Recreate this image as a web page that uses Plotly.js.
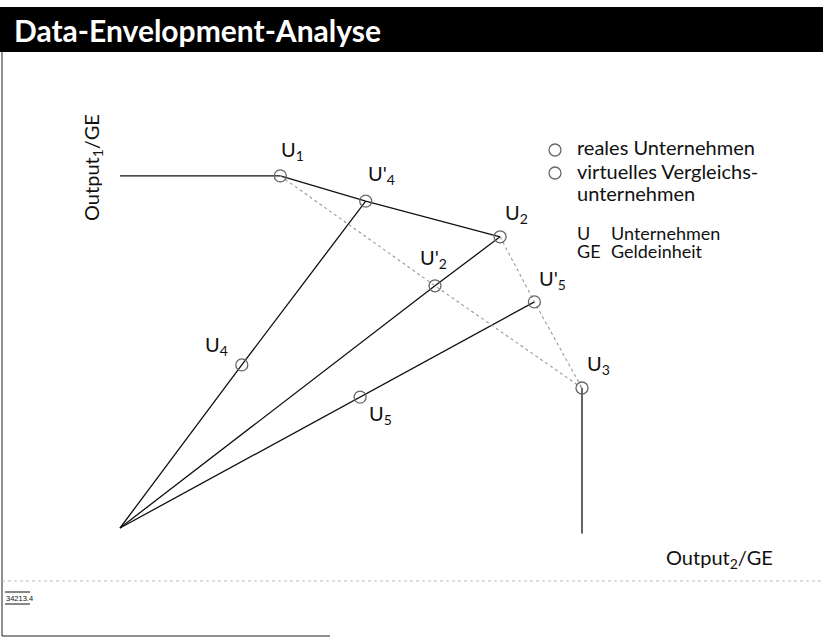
<!DOCTYPE html>
<html>
<head>
<meta charset="utf-8">
<script src="https://cdn.plot.ly/plotly-3.0.1.min.js"></script>
<style>html,body{margin:0;padding:0;background:#fff;}#chart{width:823px;height:644px;}</style>
</head>
<body>
<div id="chart"></div>
<script>
// ---- data (Output2 on x, Output1 on y, in GE) ----
const realNames = ["U<sub>1</sub>", "U<sub>2</sub>", "U<sub>3</sub>", "U<sub>4</sub>", "U<sub>5</sub>"];
const realOutput2 = [2.29, 5.43, 6.6, 1.74, 3.43];
const realOutput1 = [5.03, 4.16, 2.0, 2.33, 1.87];
const virtNames = ["U'<sub>2</sub>", "U'<sub>4</sub>", "U'<sub>5</sub>"];
const virtOutput2 = [4.5, 3.51, 5.92];
const virtOutput1 = [3.46, 4.67, 3.23];
const legendLines = [["reales Unternehmen"], ["virtuelles Vergleichs-", "unternehmen"]];
const abbrKeys = ["U", "GE"];
const abbrTexts = ["Unternehmen", "Geldeinheit"];
const titleText = "Data-Envelopment-Analyse";
const yTitle = "Output<sub>1</sub>/GE";
const xTitle = "Output<sub>2</sub>/GE";
const figCode = "34213.4";

// ---- helpers ----
const W = 823, H = 644;
const px = v => v / W, py = v => 1 - v / H;
const FONT = "Lato, 'Open Sans', sans-serif";
const R = i => [realOutput2[i], realOutput1[i]];
const V = i => [virtOutput2[i], virtOutput1[i]];
const O = [0, 0];
function seg(pts, dash, color, width) {
  return {x: pts.map(p => p[0]), y: pts.map(p => p[1]), mode: 'lines', type: 'scatter',
    line: {color: color, width: width, dash: dash}, hoverinfo: 'skip', showlegend: false};
}
const SOLID = '#111', DOT = '#999';
const MK = {symbol: 'circle-open', size: 12, color: '#666', line: {width: 1.3, color: '#666'}};
const traces = [
  seg([[0, realOutput1[0]], R(0)], 'solid', SOLID, 1.3),
  seg([R(0), V(1), R(1)], 'solid', SOLID, 1.3),
  seg([R(2), [realOutput2[2], -0.08]], 'solid', SOLID, 1.3),
  seg([O, R(3), V(1)], 'solid', SOLID, 1.3),
  seg([O, V(0), R(1)], 'solid', SOLID, 1.3),
  seg([O, R(4), V(2)], 'solid', SOLID, 1.3),
  seg([R(0), V(0), R(2)], 'dot', DOT, 1.1),
  seg([R(1), V(2), R(2)], 'dot', DOT, 1.1),
  {x: realOutput2, y: realOutput1, type: 'scatter', mode: 'markers', marker: MK, hoverinfo: 'skip', showlegend: false},
  {x: virtOutput2, y: virtOutput1, type: 'scatter', mode: 'markers', marker: MK, hoverinfo: 'skip', showlegend: false}
];

const realOff = [[12, 25], [16, 23], [16, 24], [-25, 19], [20, -17]];
const virtOff = [[-2, 27], [16, 27], [18, 22]];
const annotations = [];
const labFont = {family: FONT, size: 20, color: '#111'};
realNames.forEach((n, i) => annotations.push({x: realOutput2[i], y: realOutput1[i], xref: 'x', yref: 'y', text: n,
  showarrow: false, xanchor: 'center', yanchor: 'middle', xshift: realOff[i][0], yshift: realOff[i][1], font: labFont}));
virtNames.forEach((n, i) => annotations.push({x: virtOutput2[i], y: virtOutput1[i], xref: 'x', yref: 'y', text: n,
  showarrow: false, xanchor: 'center', yanchor: 'middle', xshift: virtOff[i][0], yshift: virtOff[i][1], font: labFont}));

function pa(x, y, text, font, xa, extra) {
  return Object.assign({x: px(x), y: py(y), xref: 'paper', yref: 'paper', text: text, showarrow: false,
    xanchor: xa || 'left', yanchor: 'middle', font: font}, extra || {});
}
annotations.push(pa(12, 30, '<b>' + titleText + '</b>', {family: FONT, size: 30, color: '#fff'}));
annotations.push(pa(92, 168, yTitle, {family: FONT, size: 20, color: '#111'}, 'center', {textangle: -90}));
annotations.push(pa(775, 558, xTitle, {family: FONT, size: 20, color: '#111'}, 'right'));

// legend (symbols as shapes, texts as annotations)
const legTextY = [[147], [171, 193]];
const legSymY = [150, 173];
const legFont = {family: FONT, size: 20, color: '#111'};
legendLines.forEach((lines, i) => lines.forEach((t, j) => annotations.push(pa(575, legTextY[i][j], t, legFont))));
const abbrY = [233, 251];
const abFont = {family: FONT, size: 18, color: '#111'};
abbrKeys.forEach((k, i) => {
  annotations.push(pa(575, abbrY[i], k, abFont));
  annotations.push(pa(609, abbrY[i], abbrTexts[i], abFont));
});
annotations.push(pa(4, 598, figCode, {family: "'Liberation Sans', sans-serif", size: 7.5, color: '#111'}));

const shapes = [
  {type: 'rect', xref: 'paper', yref: 'paper', x0: 0, x1: 1, y0: py(52), y1: py(7), fillcolor: '#000', line: {width: 0}, layer: 'below'},
  {type: 'line', xref: 'paper', yref: 'paper', x0: px(2), x1: px(2), y0: py(52), y1: py(636), line: {color: '#222', width: 1}},
  {type: 'line', xref: 'paper', yref: 'paper', x0: px(2), x1: px(330), y0: py(636), y1: py(636), line: {color: '#222', width: 1}},
  {type: 'line', xref: 'paper', yref: 'paper', x0: px(2), x1: 1, y0: py(581), y1: py(581), line: {color: '#bbb', width: 1, dash: 'dot'}},
  {type: 'line', xref: 'paper', yref: 'paper', x0: px(5), x1: px(30), y0: py(592), y1: py(592), line: {color: '#111', width: 1}},
  {type: 'line', xref: 'paper', yref: 'paper', x0: px(5), x1: px(30), y0: py(604), y1: py(604), line: {color: '#111', width: 1}}
];
legSymY.forEach(y => shapes.push({type: 'circle', xref: 'paper', yref: 'paper', x0: px(549), x1: px(561), y0: py(y + 6), y1: py(y - 6),
  line: {color: '#666', width: 1.3}, fillcolor: 'rgba(0,0,0,0)'}));

const layout = {
  width: W, height: H, margin: {l: 0, r: 0, t: 0, b: 0},
  paper_bgcolor: '#fff', plot_bgcolor: 'rgba(0,0,0,0)',
  xaxis: {domain: [px(106), px(820)], range: [-0.2, 10], visible: false, fixedrange: true},
  yaxis: {domain: [py(542), py(58)], range: [-0.2, 470 / 70], visible: false, fixedrange: true},
  showlegend: false,
  annotations: annotations, shapes: shapes
};
Plotly.newPlot('chart', traces, layout, {staticPlot: true, displayModeBar: false});
</script>
</body>
</html>
